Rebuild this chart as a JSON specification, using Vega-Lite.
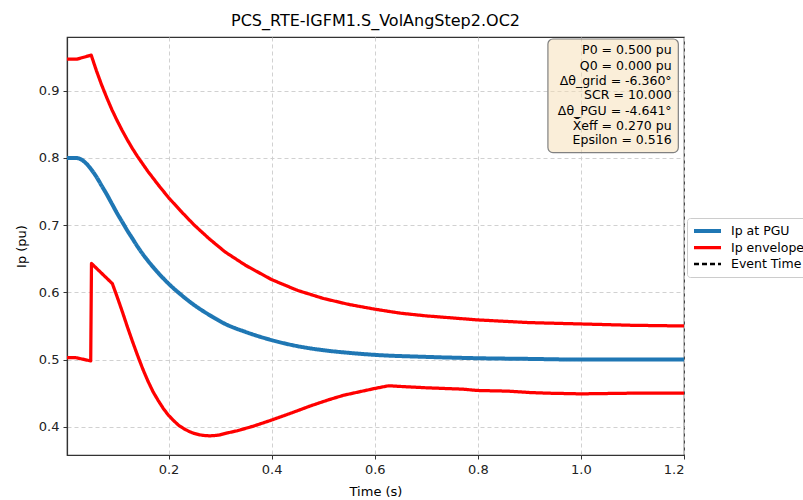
{
  "$schema": "https://vega.github.io/schema/vega-lite/v6.json",
  "autosize": {"type": "none"},
  "padding": {"left": 67, "top": 37, "right": 119, "bottom": 45},
  "width": 617,
  "height": 418,
  "title": {"text": "PCS_RTE-IGFM1.S_VolAngStep2.OC2", "font": "DejaVu Sans", "fontSize": 16, "fontWeight": "normal", "color": "#000000", "anchor": "middle", "offset": 8},
  "config": {
    "font": "DejaVu Sans",
    "view": {"stroke": "#333333", "strokeWidth": 1.2},
    "axis": {
      "labelFont": "DejaVu Sans", "labelFontSize": 13, "labelColor": "#222222",
      "titleFont": "DejaVu Sans", "titleFontSize": 13, "titleFontWeight": "normal", "titleColor": "#000000",
      "domainColor": "#333333", "domainWidth": 1.2,
      "tickColor": "#333333", "tickSize": 4,
      "gridColor": "#cccccc", "gridDash": [4, 3], "gridWidth": 0.9
    }
  },
  "datasets": {
    "pgu": [
      {"series": "Ip at PGU", "line": "pgu", "t": 0.003, "v": 0.800},
      {"series": "Ip at PGU", "line": "pgu", "t": 0.020, "v": 0.800},
      {"series": "Ip at PGU", "line": "pgu", "t": 0.030, "v": 0.798},
      {"series": "Ip at PGU", "line": "pgu", "t": 0.040, "v": 0.792},
      {"series": "Ip at PGU", "line": "pgu", "t": 0.050, "v": 0.783},
      {"series": "Ip at PGU", "line": "pgu", "t": 0.060, "v": 0.772},
      {"series": "Ip at PGU", "line": "pgu", "t": 0.070, "v": 0.759},
      {"series": "Ip at PGU", "line": "pgu", "t": 0.080, "v": 0.746},
      {"series": "Ip at PGU", "line": "pgu", "t": 0.090, "v": 0.732},
      {"series": "Ip at PGU", "line": "pgu", "t": 0.100, "v": 0.718},
      {"series": "Ip at PGU", "line": "pgu", "t": 0.110, "v": 0.705},
      {"series": "Ip at PGU", "line": "pgu", "t": 0.120, "v": 0.692},
      {"series": "Ip at PGU", "line": "pgu", "t": 0.130, "v": 0.680},
      {"series": "Ip at PGU", "line": "pgu", "t": 0.140, "v": 0.668},
      {"series": "Ip at PGU", "line": "pgu", "t": 0.150, "v": 0.657},
      {"series": "Ip at PGU", "line": "pgu", "t": 0.160, "v": 0.647},
      {"series": "Ip at PGU", "line": "pgu", "t": 0.180, "v": 0.629},
      {"series": "Ip at PGU", "line": "pgu", "t": 0.200, "v": 0.613},
      {"series": "Ip at PGU", "line": "pgu", "t": 0.225, "v": 0.596},
      {"series": "Ip at PGU", "line": "pgu", "t": 0.250, "v": 0.581},
      {"series": "Ip at PGU", "line": "pgu", "t": 0.280, "v": 0.566},
      {"series": "Ip at PGU", "line": "pgu", "t": 0.310, "v": 0.553},
      {"series": "Ip at PGU", "line": "pgu", "t": 0.350, "v": 0.541},
      {"series": "Ip at PGU", "line": "pgu", "t": 0.400, "v": 0.529},
      {"series": "Ip at PGU", "line": "pgu", "t": 0.450, "v": 0.520},
      {"series": "Ip at PGU", "line": "pgu", "t": 0.500, "v": 0.514},
      {"series": "Ip at PGU", "line": "pgu", "t": 0.550, "v": 0.510},
      {"series": "Ip at PGU", "line": "pgu", "t": 0.600, "v": 0.507},
      {"series": "Ip at PGU", "line": "pgu", "t": 0.700, "v": 0.504},
      {"series": "Ip at PGU", "line": "pgu", "t": 0.800, "v": 0.502},
      {"series": "Ip at PGU", "line": "pgu", "t": 0.900, "v": 0.501},
      {"series": "Ip at PGU", "line": "pgu", "t": 1.000, "v": 0.500},
      {"series": "Ip at PGU", "line": "pgu", "t": 1.200, "v": 0.500}
    ],
    "env": [
      {"series": "Ip envelopes", "line": "upper", "t": 0.003, "v": 0.947},
      {"series": "Ip envelopes", "line": "upper", "t": 0.022, "v": 0.947},
      {"series": "Ip envelopes", "line": "upper", "t": 0.050, "v": 0.953},
      {"series": "Ip envelopes", "line": "upper", "t": 0.060, "v": 0.930},
      {"series": "Ip envelopes", "line": "upper", "t": 0.070, "v": 0.909},
      {"series": "Ip envelopes", "line": "upper", "t": 0.080, "v": 0.890},
      {"series": "Ip envelopes", "line": "upper", "t": 0.090, "v": 0.872},
      {"series": "Ip envelopes", "line": "upper", "t": 0.100, "v": 0.856},
      {"series": "Ip envelopes", "line": "upper", "t": 0.110, "v": 0.841},
      {"series": "Ip envelopes", "line": "upper", "t": 0.120, "v": 0.827},
      {"series": "Ip envelopes", "line": "upper", "t": 0.130, "v": 0.814},
      {"series": "Ip envelopes", "line": "upper", "t": 0.140, "v": 0.802},
      {"series": "Ip envelopes", "line": "upper", "t": 0.150, "v": 0.791},
      {"series": "Ip envelopes", "line": "upper", "t": 0.160, "v": 0.780},
      {"series": "Ip envelopes", "line": "upper", "t": 0.180, "v": 0.760},
      {"series": "Ip envelopes", "line": "upper", "t": 0.200, "v": 0.741},
      {"series": "Ip envelopes", "line": "upper", "t": 0.225, "v": 0.720},
      {"series": "Ip envelopes", "line": "upper", "t": 0.250, "v": 0.700},
      {"series": "Ip envelopes", "line": "upper", "t": 0.280, "v": 0.679},
      {"series": "Ip envelopes", "line": "upper", "t": 0.310, "v": 0.660},
      {"series": "Ip envelopes", "line": "upper", "t": 0.350, "v": 0.640},
      {"series": "Ip envelopes", "line": "upper", "t": 0.400, "v": 0.619},
      {"series": "Ip envelopes", "line": "upper", "t": 0.450, "v": 0.603},
      {"series": "Ip envelopes", "line": "upper", "t": 0.500, "v": 0.591},
      {"series": "Ip envelopes", "line": "upper", "t": 0.550, "v": 0.582},
      {"series": "Ip envelopes", "line": "upper", "t": 0.600, "v": 0.575},
      {"series": "Ip envelopes", "line": "upper", "t": 0.650, "v": 0.569},
      {"series": "Ip envelopes", "line": "upper", "t": 0.700, "v": 0.565},
      {"series": "Ip envelopes", "line": "upper", "t": 0.800, "v": 0.559},
      {"series": "Ip envelopes", "line": "upper", "t": 0.900, "v": 0.555},
      {"series": "Ip envelopes", "line": "upper", "t": 1.000, "v": 0.553},
      {"series": "Ip envelopes", "line": "upper", "t": 1.100, "v": 0.551},
      {"series": "Ip envelopes", "line": "upper", "t": 1.200, "v": 0.550},

      {"series": "Ip envelopes", "line": "lower", "t": 0.003, "v": 0.503},
      {"series": "Ip envelopes", "line": "lower", "t": 0.019, "v": 0.503},
      {"series": "Ip envelopes", "line": "lower", "t": 0.049, "v": 0.498},
      {"series": "Ip envelopes", "line": "lower", "t": 0.0505, "v": 0.643},
      {"series": "Ip envelopes", "line": "lower", "t": 0.091, "v": 0.613},
      {"series": "Ip envelopes", "line": "lower", "t": 0.100, "v": 0.594},
      {"series": "Ip envelopes", "line": "lower", "t": 0.110, "v": 0.572},
      {"series": "Ip envelopes", "line": "lower", "t": 0.120, "v": 0.549},
      {"series": "Ip envelopes", "line": "lower", "t": 0.130, "v": 0.527},
      {"series": "Ip envelopes", "line": "lower", "t": 0.140, "v": 0.506},
      {"series": "Ip envelopes", "line": "lower", "t": 0.150, "v": 0.486},
      {"series": "Ip envelopes", "line": "lower", "t": 0.160, "v": 0.468},
      {"series": "Ip envelopes", "line": "lower", "t": 0.170, "v": 0.452},
      {"series": "Ip envelopes", "line": "lower", "t": 0.180, "v": 0.439},
      {"series": "Ip envelopes", "line": "lower", "t": 0.190, "v": 0.427},
      {"series": "Ip envelopes", "line": "lower", "t": 0.200, "v": 0.417},
      {"series": "Ip envelopes", "line": "lower", "t": 0.210, "v": 0.409},
      {"series": "Ip envelopes", "line": "lower", "t": 0.220, "v": 0.402},
      {"series": "Ip envelopes", "line": "lower", "t": 0.230, "v": 0.397},
      {"series": "Ip envelopes", "line": "lower", "t": 0.240, "v": 0.393},
      {"series": "Ip envelopes", "line": "lower", "t": 0.250, "v": 0.390},
      {"series": "Ip envelopes", "line": "lower", "t": 0.260, "v": 0.388},
      {"series": "Ip envelopes", "line": "lower", "t": 0.270, "v": 0.387},
      {"series": "Ip envelopes", "line": "lower", "t": 0.280, "v": 0.3865},
      {"series": "Ip envelopes", "line": "lower", "t": 0.290, "v": 0.387},
      {"series": "Ip envelopes", "line": "lower", "t": 0.300, "v": 0.388},
      {"series": "Ip envelopes", "line": "lower", "t": 0.315, "v": 0.391},
      {"series": "Ip envelopes", "line": "lower", "t": 0.333, "v": 0.394},
      {"series": "Ip envelopes", "line": "lower", "t": 0.365, "v": 0.401},
      {"series": "Ip envelopes", "line": "lower", "t": 0.400, "v": 0.410},
      {"series": "Ip envelopes", "line": "lower", "t": 0.440, "v": 0.421},
      {"series": "Ip envelopes", "line": "lower", "t": 0.475, "v": 0.431},
      {"series": "Ip envelopes", "line": "lower", "t": 0.510, "v": 0.440},
      {"series": "Ip envelopes", "line": "lower", "t": 0.540, "v": 0.447},
      {"series": "Ip envelopes", "line": "lower", "t": 0.570, "v": 0.452},
      {"series": "Ip envelopes", "line": "lower", "t": 0.600, "v": 0.457},
      {"series": "Ip envelopes", "line": "lower", "t": 0.627, "v": 0.461},
      {"series": "Ip envelopes", "line": "lower", "t": 0.650, "v": 0.460},
      {"series": "Ip envelopes", "line": "lower", "t": 0.700, "v": 0.458},
      {"series": "Ip envelopes", "line": "lower", "t": 0.770, "v": 0.456},
      {"series": "Ip envelopes", "line": "lower", "t": 0.800, "v": 0.454},
      {"series": "Ip envelopes", "line": "lower", "t": 0.860, "v": 0.453},
      {"series": "Ip envelopes", "line": "lower", "t": 0.900, "v": 0.451},
      {"series": "Ip envelopes", "line": "lower", "t": 0.935, "v": 0.450},
      {"series": "Ip envelopes", "line": "lower", "t": 1.000, "v": 0.449},
      {"series": "Ip envelopes", "line": "lower", "t": 1.100, "v": 0.450},
      {"series": "Ip envelopes", "line": "lower", "t": 1.200, "v": 0.450}
    ],
    "box": [{"t1": 0.936, "t2": 1.189, "v1": 0.808, "v2": 0.977}],
    "notes": [
      {"label": "P0 = 0.500 pu", "t": 1.176, "v": 0.960},
      {"label": "Q0 = 0.000 pu", "t": 1.176, "v": 0.9375},
      {"label": "Δθ_grid = -6.360°", "t": 1.176, "v": 0.915},
      {"label": "SCR = 10.000", "t": 1.176, "v": 0.893},
      {"label": "Δθ_PGU = -4.641°", "t": 1.176, "v": 0.8705},
      {"label": "X̄eff = 0.270 pu", "t": 1.176, "v": 0.848},
      {"label": "Epsilon = 0.516", "t": 1.176, "v": 0.826}
    ]
  },
  "encoding": {
    "x": {"field": "t", "type": "quantitative", "title": "Time (s)",
          "scale": {"domain": [0.003, 1.2], "nice": false, "zero": false},
          "axis": {"values": [0.2, 0.4, 0.6, 0.8, 1.0, 1.2], "format": ".1f", "labelPadding": 4, "titlePadding": 9, "grid": true}},
    "y": {"field": "v", "type": "quantitative", "title": "Ip (pu)",
          "scale": {"domain": [0.358, 0.98], "nice": false, "zero": false},
          "axis": {"values": [0.4, 0.5, 0.6, 0.7, 0.8, 0.9], "format": ".1f", "labelPadding": 4, "titlePadding": 10, "grid": true}}
  },
  "layer": [
    {
      "data": {"name": "pgu"},
      "mark": {"type": "line", "clip": true, "interpolate": "monotone", "strokeCap": "butt", "strokeJoin": "round"},
      "encoding": {
        "detail": {"field": "line"},
        "color": {"field": "series", "type": "nominal",
                  "scale": {"domain": ["Ip at PGU", "Ip envelopes", "Event Time"], "range": ["#1f77b4", "#ff0000", "#000000"]},
                  "legend": {"title": null, "orient": "none", "legendX": 620, "legendY": 181,
                             "symbolType": "stroke", "symbolSize": 729, "clipHeight": 16,
                             "labelFont": "DejaVu Sans", "labelFontSize": 12.5, "labelColor": "#000000", "labelOffset": 8,
                             "rowPadding": 0.5, "padding": 5, "fillColor": "#ffffff", "strokeColor": "#cccccc", "cornerRadius": 3}},
        "strokeDash": {"field": "series", "type": "nominal",
                  "scale": {"domain": ["Ip at PGU", "Ip envelopes", "Event Time"], "range": [[1, 0], [1, 0], [5, 3]]},
                  "legend": {"title": null, "orient": "none", "legendX": 620, "legendY": 181}},
        "strokeWidth": {"field": "series", "type": "nominal",
                  "scale": {"domain": ["Ip at PGU", "Ip envelopes", "Event Time"], "range": [4, 2.5, 1.5]},
                  "legend": {"title": null, "orient": "none", "legendX": 620, "legendY": 181}}
      }
    },
    {
      "data": {"name": "env"},
      "mark": {"type": "line", "clip": true, "strokeCap": "butt", "strokeJoin": "round"},
      "encoding": {
        "detail": {"field": "line"},
        "color": {"field": "series", "type": "nominal"},
        "strokeDash": {"field": "series", "type": "nominal"},
        "strokeWidth": {"field": "series", "type": "nominal"}
      }
    },
    {
      "data": {"name": "box"},
      "mark": {"type": "rect", "fill": "#f5deb3", "fillOpacity": 0.5, "stroke": "#808080", "strokeWidth": 1.2, "cornerRadius": 5},
      "encoding": {
        "x": {"field": "t1", "type": "quantitative"},
        "x2": {"field": "t2"},
        "y": {"field": "v1", "type": "quantitative"},
        "y2": {"field": "v2"}
      }
    },
    {
      "data": {"name": "notes"},
      "mark": {"type": "text", "align": "right", "baseline": "middle", "font": "DejaVu Sans", "fontSize": 12.5, "color": "#000000"},
      "encoding": {
        "x": {"field": "t", "type": "quantitative"},
        "y": {"field": "v", "type": "quantitative"},
        "text": {"field": "label"}
      }
    }
  ]
}
